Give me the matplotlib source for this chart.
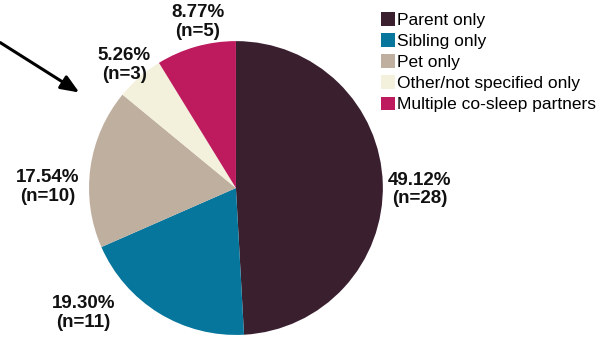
import matplotlib.pyplot as plt
from matplotlib.patches import Rectangle

plt.rcParams['font.family'] = ['Liberation Sans', 'DejaVu Sans']

categories = ['Parent only', 'Sibling only', 'Pet only',
              'Other/not specified only', 'Multiple co-sleep partners']
counts = [28, 11, 10, 3, 5]
percents = [49.12, 19.30, 17.54, 5.26, 8.77]
colors = ['#3a1f2f', '#07769c', '#bfaf9f', '#f3f0dc', '#be1a5e']

# label anchors in pie units (radius = 1)
label_pos = [(1.25, -0.01), (-1.04, -0.85), (-1.28, 0.01),
             (-0.76, 0.84), (-0.26, 1.13)]

fig = plt.figure(figsize=(6.16, 3.41), dpi=100)
ax = fig.add_axes([0.1445, 0.0176, 0.477, 0.862])

wedges, _ = ax.pie(counts, colors=colors, startangle=90, counterclock=False,
                   radius=1.0, wedgeprops=dict(linewidth=0))
ax.set_aspect('equal')
ax.set_xlim(-1, 1)
ax.set_ylim(-1, 1)

for p, n, (x, y) in zip(percents, counts, label_pos):
    ax.text(x, y, f'{p:.2f}%\n(n={n})', ha='center', va='center',
            fontsize=13.5, fontweight='bold', linespacing=1.15,
            color='#111111', clip_on=False)

ax.annotate('', xy=(-1.05, 0.64), xytext=(-1.62, 1.0),
            arrowprops=dict(arrowstyle='-|>,head_length=1.1,head_width=0.45',
                            color='black', lw=2.2),
            annotation_clip=False)

handles = [Rectangle((0, 0), 1, 1, facecolor=c, edgecolor='none') for c in colors]
fig.legend(handles, categories, loc='upper left',
           bbox_to_anchor=(374 / 616, 1 - 5 / 341), frameon=False,
           fontsize=12.5, handlelength=0.8, handleheight=0.85,
           handletextpad=0.15, labelspacing=0.3, borderaxespad=0)

fig.savefig('out.png', dpi=100)
